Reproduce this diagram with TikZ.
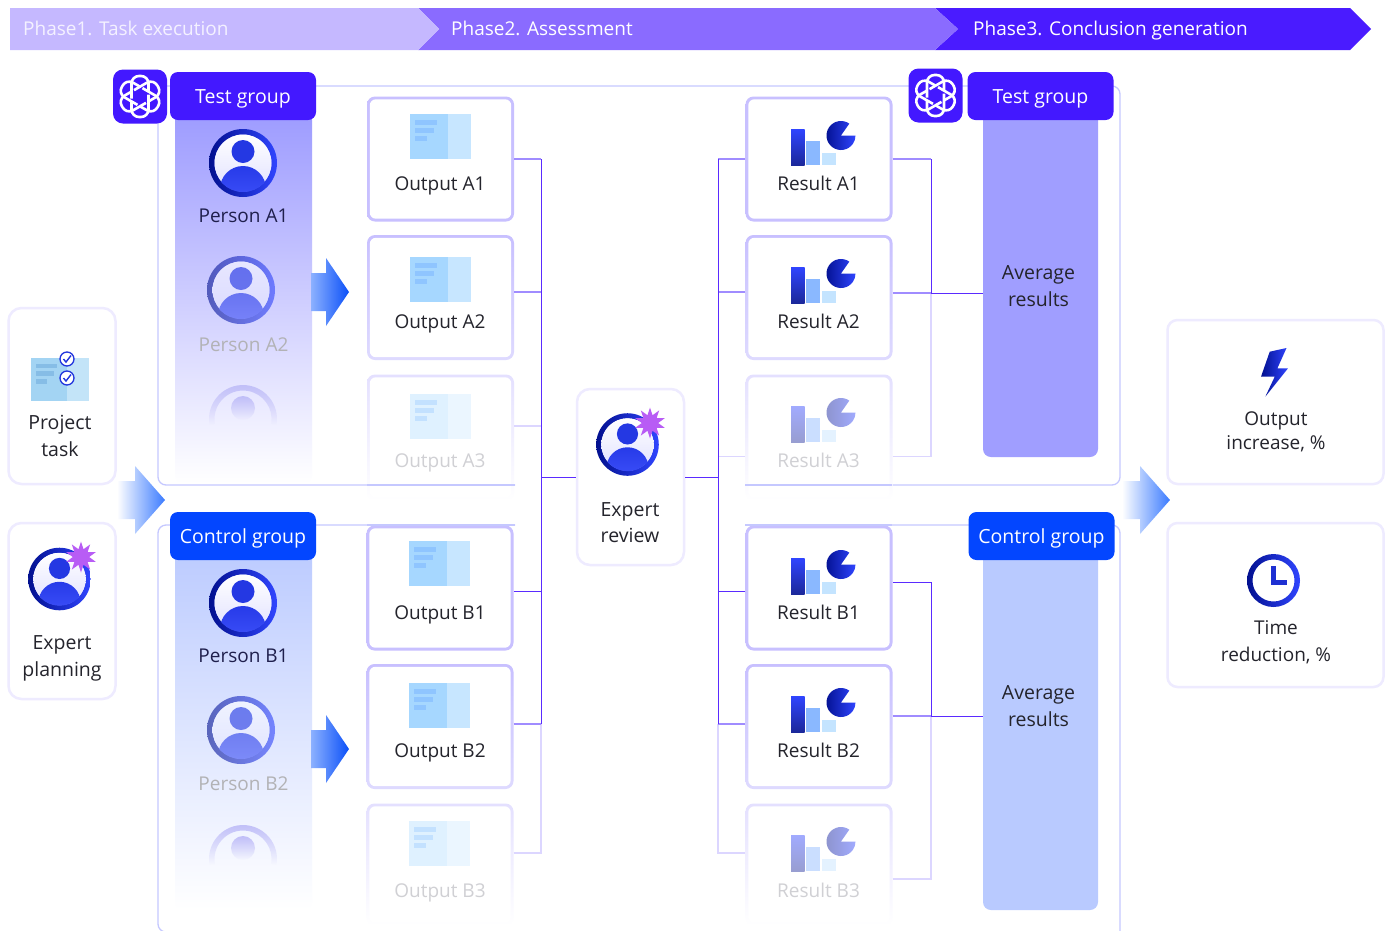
\documentclass[tikz,border=0pt]{standalone}
\usepackage{fontspec}
\setmainfont{Open Sans}
\usetikzlibrary{shapes.geometric,fadings}

\definecolor{ink}{HTML}{24242C}
\definecolor{inkfade}{HTML}{D0D0D4}
\definecolor{violet}{HTML}{4318FF}
\definecolor{royal}{HTML}{0346FF}
\definecolor{phaseone}{HTML}{C5B8FF}
\definecolor{phasetwo}{HTML}{8A6BFF}
\definecolor{phasethree}{HTML}{4A1BFF}
\definecolor{framecol}{HTML}{C5C8FF}
\definecolor{cardtop}{HTML}{C8C0FF}
\definecolor{cardmid}{HTML}{DEDAFF}
\definecolor{cardfade}{HTML}{E4E0FF}
\definecolor{softline}{HTML}{EEEBFF}
\definecolor{wirecol}{HTML}{5A2BFF}
\definecolor{wiremid}{HTML}{A08CFF}
\definecolor{wirelight}{HTML}{DCD6FF}
\definecolor{ringdark}{HTML}{02108F}
\definecolor{ringlite}{HTML}{3045FF}
\definecolor{starcol}{HTML}{B85CF5}
\definecolor{docleft}{HTML}{A6D7FF}
\definecolor{docright}{HTML}{C7E6FF}
\definecolor{docline}{HTML}{8FC5FF}
\definecolor{barmid}{HTML}{8AB8FF}
\definecolor{barlow}{HTML}{C4E4FF}
\definecolor{pantest}{HTML}{9D9BFF}
\definecolor{panctrl}{HTML}{BCCBFF}
\definecolor{avgtest}{HTML}{A09EFF}
\definecolor{avgctrl}{HTML}{B9CAFF}
\definecolor{ghost}{HTML}{C0BEF8}
\definecolor{arrowlo}{HTML}{3B7BFF}
\definecolor{arrowa}{HTML}{8CB1FF}
\definecolor{arrowb}{HTML}{0B50F8}

\tikzfading[name=fadedown,top color=transparent!0,bottom color=transparent!100]

\tikzset{
	txt/.style={font=\fontsize{19.5}{26.5}\selectfont,align=center,text=ink,inner sep=0pt,text height=14pt,text depth=0pt},
	smalltxt/.style={txt,font=\fontsize{19}{24}\selectfont},
	panel/.style={rectangle,rounded corners=8pt,minimum width=137pt,inner sep=0pt},
	headbox/.style={rectangle,rounded corners=8pt,minimum width=146pt,minimum height=48pt,inner sep=0pt,font=\fontsize{19.5}{24}\selectfont,text=white,text height=14pt,text depth=0pt},
	logobox/.style={rectangle,rounded corners=10pt,minimum width=54pt,minimum height=54pt,fill=violet,inner sep=0pt},
	cardbox/.style={rectangle,rounded corners=8pt,minimum width=147pt,inner sep=0pt},
	softbox/.style={rectangle,rounded corners=13pt,draw=softline,line width=2.5pt,fill=white,inner sep=0pt},
	wire/.style={draw=wirecol,line width=1pt},
	wirem/.style={draw=wiremid,line width=1.2pt},
	wirel/.style={draw=wirelight,line width=1.1pt},
	starbox/.style={star,star points=10,star point ratio=1.9,fill=starcol,minimum size=31pt,inner sep=0pt},
	personpic/.pic={
		\shade[left color=ringdark,right color=ringlite,even odd rule] (0,0) circle (34) (0,0) circle (28.5);
		\shade[top color=white,bottom color=white!88!blue] (0,0) circle (28.5);
		\fill[ringlite!75!ringdark] (0,-11.5) circle (11.5);
		\begin{scope}
			\clip (0,0) circle (29);
			\shade[top color=ringlite!80!ringdark,bottom color=ringlite!90!white] (0,26) circle (23);
		\end{scope}
	},
	docpic/.pic={
		\fill[docleft] (0,0) rectangle (37.5,45);
		\fill[docright] (37.5,0) rectangle (61,45);
		\fill[docline] (5,6) rectangle (27,11);
		\fill[docline] (5,14) rectangle (24,19);
		\fill[docline] (5,22) rectangle (17,27);
	},
	resultpic/.pic={
		\shade[top color=ringlite,bottom color=ringdark!90!white] (0,0) rectangle (13.5,-36);
		\fill[barmid] (15,0) rectangle (29,-24);
		\fill[barlow] (30.5,0) rectangle (44.5,-12);
		\shade[left color=ringdark,right color=ringlite] (50,-29.5) -- ++(-55:14.5) arc (-55:-360:14.5) -- cycle;
	},
	logopic/.pic={
		\foreach \a in {0,60,...,300} {{
			\draw[white,line width=2.6pt,rotate=\a,rounded corners=7.5pt] (-8.5,2) -- (-8.5,-20.5) -- (8.5,-20.5) -- (8.5,-5);
		}}
	},
}

\begin{document}
\begin{tikzpicture}[x=1pt,y=-1pt]
	\fill[white] (0,0) rectangle (1387,930);
	\useasboundingbox (0,0) rectangle (1387,930);

	% phases
	\fill[phasethree] (935,8) -- (1350,8) -- (1371,29) -- (1350,50) -- (935,50) -- (958,29) -- cycle;
	\fill[phasetwo] (418,8) -- (935,8) -- (958,29) -- (935,50) -- (418,50) -- (439,29) -- cycle;
	\fill[phaseone] (10,8) -- (418,8) -- (439,29) -- (418,50) -- (10,50) -- cycle;
	\foreach \n/\x/\t/\c in {ph1/23/Phase1. Task execution/white!80!phaseone,ph2/451/Phase2. Assessment/white,ph3/973/Phase3. Conclusion generation/white} {{
		\node[smalltxt,anchor=west,text=\c] (\n) at (\x,28.5) {\t};
	}}

	% group frames
	\draw[framecol,line width=1.3pt,rounded corners=8pt] (515,485) -- (158,485) -- (158,86) -- (1120,86) -- (1120,485) -- (745,485);
	\draw[framecol,line width=1.3pt,rounded corners=8pt] (515,525) -- (158,525) -- (158,932) -- (170,932);
	\draw[framecol,line width=1.3pt,rounded corners=8pt] (745,525) -- (1120,525) -- (1120,938);

	% left columns
	\node[panel,minimum height=371pt,top color=pantest,bottom color=white] (panA) at (243.5,297.5) {};
	\node[panel,minimum height=360pt,top color=panctrl,bottom color=white] (panB) at (243.5,730) {};
	\node[panel,minimum width=115pt,minimum height=347pt,fill=avgtest] (avgA) at (1040.5,283.5) {};
	\node[panel,minimum width=115pt,minimum height=360pt,fill=avgctrl] (avgB) at (1040.5,730) {};

	% cards
	\foreach \n/\x/\y/\h/\top/\bot in {oA1/440.5/159/125/cardtop/cardtop,oA2/440.5/297.5/125/cardtop/cardmid,oA3/440.5/437.5/126/cardfade/white,oB1/440/588/125/cardtop/cardtop,oB2/440/726.5/125/cardtop/cardmid,oB3/440/864.5/122/cardfade/white,rA1/819/159/125/cardtop/cardtop,rA2/819/297.5/125/cardtop/cardmid,rA3/819/437.5/126/cardfade/white,rB1/819/588/125/cardtop/cardtop,rB2/819/726.5/125/cardtop/cardmid,rB3/819/864.5/122/cardfade/white} {{
		\node[cardbox,minimum height=\h pt,top color=\top,bottom color=\bot] (\n) at (\x,\y) {};
		\fill[white,rounded corners=6pt] ([shift={(3pt,-3pt)}]\n.north west) rectangle ([shift={(-3pt,3pt)}]\n.south east);
	}}
	\draw[framecol,line width=1.3pt] (367,485) -- (515,485) (745,485) -- (892,485);
	\draw[framecol,line width=1.3pt] (367,525) -- (515,525) (745,525) -- (892,525);

	% connectors
	\coordinate (busL) at (541,477);
	\coordinate (busR) at (718,477);
	\coordinate (busA) at (931,293);
	\coordinate (busB) at (931,716);
	\coordinate (pOA2) at ([yshift=5.5pt]oA2.east);
	\coordinate (pOA3) at ([yshift=11.5pt]oA3.east);
	\coordinate (pOB1) at ([yshift=-3pt]oB1.east);
	\coordinate (pOB2) at ([yshift=2.5pt]oB2.east);
	\coordinate (pOB3) at ([yshift=11.5pt]oB3.east);
	\coordinate (pRA2) at ([yshift=5.5pt]rA2.west);
	\coordinate (pRA3) at ([yshift=-19pt]rA3.west);
	\coordinate (pRB1) at ([yshift=-3pt]rB1.west);
	\coordinate (pRB2) at ([yshift=2.5pt]rB2.west);
	\coordinate (pRB3) at ([yshift=11.5pt]rB3.west);

	\draw[wirel] (pOA3) -- (pOA3 -| busL);
	\draw[wirel] (pOB3) -| (pOB2 -| busL);
	\draw[wirem] (pOA2) -- (pOA2 -| busL);
	\draw[wirem] (pOB2) -- (pOB2 -| busL);
	\draw[wire] (pOB2 -| busL) -- (busL);
	\draw[wire] (pOB1) -| (busL);
	\draw[wirem] (oA1.east) -- (oA1.east -| busL);
	\draw[wire] (oA1.east -| busL) -- (busL);

	\draw[wirel] (pRA3) -- (pRA3 -| busR);
	\draw[wirel] (pRB3) -| (pRB2 -| busR);
	\draw[wirem] (pRA2) -- (pRA2 -| busR);
	\draw[wirem] (pRB2) -- (pRB2 -| busR);
	\draw[wire] (pRB2 -| busR) -- (busR);
	\draw[wire] (pRB1) -| (busR);
	\draw[wirem] (rA1.west) -- (rA1.west -| busR);
	\draw[wire] (rA1.west -| busR) -- (busR);

	\draw[wirel] ([yshift=-19pt]rA3.east) -| (busA);
	\draw[wirem] (rA2.east |- busA) -- (busA);
	\draw[wirem] (rA1.east) -- (rA1.east -| busA);
	\draw[wire] (rA1.east -| busA) -- (busA);
	\draw[wire] (busA) -- (busA -| avgA.west);
	\draw[wirel] ([yshift=-14.5pt]rB3.east) -| (busB);
	\draw[wirem] (rB2.east |- busB) -- (busB);
	\draw[wire] ([yshift=6pt]rB1.east) -| (busB);
	\draw[wire] (busB) -- (busB -| avgB.west);

	% soft cards
	\node[softbox,minimum width=107pt,minimum height=176pt] (expert) at (630.5,477) {};
	\draw[wire] (busL) -- (expert.west);
	\draw[wire] (expert.east) -- (busR);
	\node[softbox,minimum width=107pt,minimum height=176pt] (project) at (62,396) {};
	\node[softbox,minimum width=107pt,minimum height=176pt] (planning) at (62,611) {};
	\node[softbox,rounded corners=10pt,minimum width=216pt,minimum height=164pt] (gain) at (1275.5,402) {};
	\node[softbox,rounded corners=10pt,minimum width=216pt,minimum height=164pt] (saving) at (1275.5,605) {};

	% heads
	\node[headbox,fill=violet] (headA) at (243,96) {Test group};
	\node[headbox,fill=royal] (headB) at (243,536) {Control group};
	\node[headbox,fill=violet] (headC) at (1040.5,96) {Test group};
	\node[headbox,fill=royal] (headD) at (1041.5,536) {Control group};
	\node[logobox] (logoA) at (140,96.5) {};
	\node[logobox] (logoB) at (935.5,95.5) {};
	\pic at (logoA.center) {logopic};
	\pic at (logoB.center) {logopic};

	% people
	\pic at (243,163) {personpic};
	\begin{scope}[transparency group,opacity=0.6]
		\pic at (241,290) {personpic};
	\end{scope}
	\pic at (243,603) {personpic};
	\begin{scope}[transparency group,opacity=0.6]
		\pic at (241,730) {personpic};
	\end{scope}
	\foreach \x/\y in {243/419,243/859} {{
		\fill[ghost,path fading=fadedown] ([shift={(170:34)}]\x,\y) arc (170:370:34) -- ([shift={(10:28.5)}]\x,\y) arc (370:170:28.5) -- cycle;
		\fill[ghost,path fading=fadedown] (\x,\y-11) circle (12);
	}}
	\pic[scale=0.92] at (59.5,579) {personpic};
	\pic[scale=0.92] at (627.5,444.5) {personpic};
	\node[starbox] (starL) at (81,557) {};
	\node[starbox] (starR) at (650,423) {};

	% icons
	\foreach \x/\y/\o in {410/114/1,410/257/1,410/394/0.35,409/541/1,409/683/1,409/821/0.35} {{
		\pic[opacity=\o] at (\x,\y) {docpic};
	}}
	\foreach \y/\o in {165/1,303/1,442/0.45,594/1,732/1,871/0.45} {{
		\pic[opacity=\o] at (791,\y) {resultpic};
	}}
	\begin{scope}
		\definecolor{docleft}{HTML}{A3D4F3}
		\definecolor{docright}{HTML}{C3E4F8}
		\definecolor{docline}{HTML}{86BDE6}
		\pic[scale=0.95] at (31,358) {docpic};
	\end{scope}
	\foreach \y in {359,378} {{
		\draw[ringlite!70!ringdark,fill=white,line width=1.3pt] (67,\y) circle (7);
		\draw[ringlite!70!ringdark,line width=1.4pt] (63.5,\y) -- (66,\y+3) -- (71,\y-3.5);
	}}

	% bolt and clock
	\shade[left color=ringdark,right color=ringlite] (1286.5,348) -- (1269.7,351.7) -- (1261,376.7) -- (1274.7,376.7) -- (1265.3,396.7) -- (1288,368.3) -- (1277.4,368.3) -- cycle;
	\shade[left color=ringdark,right color=ringlite,even odd rule] (1273.5,580.5) circle (26.5) (1273.5,580.5) circle (21);
	\draw[ringlite!60!ringdark,line width=5pt] (1273.5,566) -- (1273.5,582) -- (1287,582);

	% big arrows
	\foreach \x/\y in {117/500,1122/500} {{
		\shade[left color=white,right color=arrowlo] (\x,\y-19) -- (\x+18,\y-19) -- (\x+18,\y-34) -- (\x+48,\y) -- (\x+18,\y+34) -- (\x+18,\y+19) -- (\x,\y+19) -- cycle;
	}}
	\foreach \x/\y in {311/292,311/749} {{
		\shade[left color=arrowa,right color=arrowb] (\x,\y-19) -- (\x+15,\y-19) -- (\x+15,\y-34) -- (\x+38,\y) -- (\x+15,\y+34) -- (\x+15,\y+19) -- (\x,\y+19) -- cycle;
	}}

	% labels
	\foreach \n/\x/\y/\t/\c in {tPA1/243.5/215/Person A1/ink!85!blue,tPA2/243.5/344/Person A2/ink!35!white,tPB1/243.5/655.5/Person B1/ink!85!blue,tPB2/243.5/783.5/Person B2/ink!35!white,tOA1/440/183.5/Output A1/ink,tOA2/440/321.5/Output A2/ink,tOA3/440/460/Output A3/inkfade,tOB1/440/612.5/Output B1/ink,tOB2/440/750.5/Output B2/ink,tOB3/440/890/Output B3/inkfade,tRA1/818.5/183.5/Result A1/ink,tRA2/818.5/321.5/Result A2/ink,tRA3/818.5/460/Result A3/inkfade,tRB1/818.5/612.5/Result B1/ink,tRB2/818.5/750.5/Result B2/ink,tRB3/818.5/890/Result B3/inkfade} {{
		\node[smalltxt,text=\c] (\n) at (\x,\y) {\t};
	}}
	\node[txt] (tProject) at (60,449) {Project\\task};
	\node[txt] (tPlanning) at (62,669) {Expert\\planning};
	\node[txt] (tReview) at (630,535.5) {Expert\\review};
	\node[txt] (tAvgA) at (1038.5,299) {Average\\results};
	\node[txt] (tAvgB) at (1038.5,719) {Average\\results};
	\node[smalltxt,font=\fontsize{19}{23.6}\selectfont] (tGain) at (1276,442.5) {Output\\increase, \%};
	\node[smalltxt,font=\fontsize{19}{26.6}\selectfont] (tSaving) at (1276,654) {Time\\reduction, \%};
\end{tikzpicture}
\end{document}
